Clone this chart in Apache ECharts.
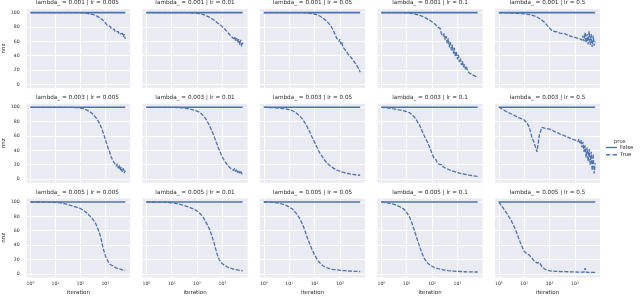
<!DOCTYPE html>
<html><head><meta charset="utf-8">
<script src="https://cdn.jsdelivr.net/npm/echarts@6/dist/echarts.min.js"></script>
<style>html,body{margin:0;padding:0;background:#fff}#c{width:640px;height:297px}</style>
</head><body><div id="c"></div>
<script>
const lambdas = ['0.001', '0.003', '0.005'];
const lrs = ['0.005', '0.01', '0.05', '0.1', '0.5'];
const legendNames = ['False', 'True'];
const xTickValues = [1, 10, 100, 1000];
const xTickLabels = ['10\u2070', '10\u00B9', '10\u00B2', '10\u00B3'];
const yTickValues = [0, 20, 40, 60, 80, 100];

const iterations = [1,2,3,4,5,6,7,8,10,13,16,20,25,32,40,50,63,79,100,
  110,120,132,145,158,174,191,209,229,251,
  275,302,331,363,398,437,479,525,575,631,
  692,759,832,912,1000,1096,1202,1318,1445,1585,
  1738,1905,2089,2291,2512,2754,3020,3311,3631,3981,
  4365,4786,5248,5754,6310];

// prox = False : nnz stays at 100
const nnzNoProx = [100,100,100,100,100,100,100,100,100,100,100,100,100,100,100,100,100,100,100,
  100,100,100,100,100,100,100,100,100,100,
  100,100,100,100,100,100,100,100,100,100,
  100,100,100,100,100,100,100,100,100,100,
  100,100,100,100,100,100,100,100,100,100,
  100,100,100,100,100];

// prox = True, lambda_ = 0.001
const nnz_l001_lr005 = [100,100,100,100,100,100,100,100,100,100,100,100,100,100,100,100,100,100,100,
  99.9,99.8,99.7,99.6,99.4,99.2,99,98.7,98.4,98.1,
  97.8,97.4,97,96.5,96,95.4,94.8,94.1,93.2,92.3,
  90.5,90.2,87.9,87.4,85,84.8,82.3,82.6,80,80.5,
  77.6,78.4,75.3,76.6,73.2,75,71.5,73.6,69.8,72.4,
  68.2,71.2,66.5,70,63.5];
const nnz_l001_lr01 = [100,100,100,100,100,100,100,100,100,100,100,100,100,100,99.9,99.8,99.6,99.4,99.1,
  98.9,98.7,98.4,98.1,97.7,97.3,96.8,96.3,95.7,95.1,
  94.5,93.8,93,92.2,91.3,90.3,89.3,88.2,87,85.8,
  85,84,82.5,81.5,80,78.8,77.2,76,74.2,73,
  72.5,69.5,71,66.5,68.5,63.5,66.5,61,64.5,58.5,
  63,55.5,62,53,58];
const nnz_l001_lr05 = [100,100,100,100,100,100,100,100,100,100,100,100,100,99.9,99.7,99.5,99.1,98.6,98,
  97.6,97.1,96.6,96,95.3,94.5,93.6,92.6,91.6,90.5,
  89.3,88,86.5,85,83.3,81.5,79.2,76.5,73.5,70.5,
  69,64,66,60,63,56,59,52,54,48.5,
  50,44.5,46,40.5,43,37.5,39.5,33.5,35.5,29.5,
  31.5,25.5,26.5,21,17];
const nnz_l001_lr1 = [100,100,100,100,100,100,99.9,99.8,99.6,99.2,98.8,98.1,97.2,96.2,95,93.5,91.6,89.6,87.3,
  86.3,85.2,84,82.5,81,79.5,77.5,78,71.5,74,
  67,71,62.5,67,57,64,52,59,47.5,55,
  43,51,38.5,46,35,41,31,36,27,32,
  24,28,21,24.5,18.5,21,16,18,14,15.5,
  12.5,13.5,11.2,12,10];
const nnz_l001_lr5 = [100,99.6,99.3,99.1,98.9,98.8,98.6,98.5,98.2,97.8,97.3,96.5,95.3,93.8,91.8,89.3,86.5,82.5,78.5,
  77,75.5,74.5,74,73.5,73.5,72.5,73,72,71.5,
  72,71,70.5,71,69.5,70,69,68.5,69,67.5,
  68.5,66.5,67.5,66,67,65,66.5,64,66,63.5,
  65.5,61.5,68,60,72,58,70,56,74,55,
  70,52,68,54,60];

// prox = True, lambda_ = 0.003
const nnz_l003_lr005 = [100,100,100,100,100,100,100,100,100,100,100,100,100,100,99.9,99.8,99.6,99.4,99,
  98.7,98.4,98,97.5,97,96.5,95.9,95.2,94.4,93.5,
  92.5,91.3,89.9,88.3,86.6,84.8,82.9,80.7,78.2,75.3,
  72,68.2,64.2,59.8,55.5,51,46.8,42.5,39.5,34,
  33,27.5,28.5,22.5,24.5,18,21.5,15,19,12,
  17,10,15,8.5,12];
const nnz_l003_lr01 = [100,100,100,100,100,100,100,100,99.9,99.8,99.7,99.5,99.2,98.8,98.3,97.7,96.9,95.9,94.6,
  94,93.2,92.3,91.3,90.1,88.7,87.1,85.2,83.1,80.8,
  78.2,75.4,72.4,69.2,65.9,62.4,58.8,55,51.2,47.4,
  43.7,40.2,37,33.5,31.5,28,27,23.5,23.5,19.5,
  21,16.5,18.5,14,16.5,12,15,10.5,13.5,9,
  12.5,8,11.5,7,9];
const nnz_l003_lr05 = [100,99.6,99.2,98.9,98.5,98.2,97.9,97.6,96.8,95.5,93.8,91.5,88.5,84.5,79.5,73.5,66.5,59,51.5,
  48.5,45.5,42.5,39.5,37,34.5,32.5,31,28,28.5,
  24.5,25.5,21.5,22.5,19,20,16.8,18,15,16,
  13.5,14.2,12,13,11,11.8,10,10.8,9.2,9.8,
  8.5,9,7.8,8.2,7.2,7.5,6.8,7,6.4,6.5,
  6,6.1,5.7,5.7,5.4];
const nnz_l003_lr1 = [100,98.9,97.8,97.2,96.5,96,95.4,94.9,93.8,92.4,90,86.5,81.5,75.5,67.5,60,53,45,35.5,
  32,29,27,26.5,23.5,24,20.5,22,18.5,20,
  17,18.5,15.5,16.5,14.2,15,13,13.8,12,12.6,
  11,11.5,10,10.3,9.2,9.3,8.4,8.4,7.7,7.6,
  7.1,6.9,6.5,6.3,5.9,5.7,5.4,5.2,5,4.8,
  4.6,4.4,4.2,4.1,3.9];
const nnz_l003_lr5 = [100,94,91,89,87,85.5,84.5,84,82.5,78,72,59,50,38,62,72,71,70.5,69.5,
  69,68.5,67.5,67,66.5,65.5,66,64.5,65,63,
  64,62,63,61,62,59.5,61,58.5,60,57,
  59.5,56,58,55,57.5,54,56.5,52,56,50,
  54,44,52,38,47,30,44,25,42,20,
  38,12,35,8,22];

// prox = True, lambda_ = 0.005
const nnz_l005_lr005 = [100,100,100,99.9,99.9,99.8,99.7,99.6,99.4,99.1,98.7,98.1,97.3,96.3,95.3,94.3,93.3,92.2,91,
  90.3,89.5,88.6,87.6,86.6,85.4,84.2,82.8,81.3,79.7,
  78.2,76.6,75,73.5,71,68,64.5,61,57.5,53,
  47.5,41,35,30,25.5,22,19.5,16.5,15.5,13,
  12.8,10.8,10.7,9,9.2,7.8,8,6.8,7.1,6,
  6.3,5.4,5.6,4.8,5];
const nnz_l005_lr01 = [100,100,99.9,99.8,99.7,99.6,99.4,99.3,98.9,98.4,97.8,97,96.1,95,93.9,92.6,91.2,89.5,87.5,
  86.5,85.2,83.8,82.2,80.5,78.6,76.5,74,71.2,68.5,
  65.8,63.5,60,55.5,51,46.5,42,36.5,31.5,26.5,
  22.5,19.5,17,15.5,14,12.8,11.5,11,9.6,9.5,
  8.2,8.3,7.2,7.4,6.4,6.6,5.7,6,5.1,5.4,
  4.7,4.9,4.3,4.5,4];
const nnz_l005_lr05 = [100,99.6,99,98.3,97.4,96.5,95.7,95,93,90.5,87.5,83,78,70.5,62,52,42.5,34,26.5,
  24,21.5,19.2,17.2,15.4,14,12.6,11.5,10.6,9.8,
  9.1,8.5,8,7.6,7.2,6.9,6.6,6.3,6,5.8,
  5.6,5.4,5.2,5.1,4.9,4.8,4.6,4.5,4.4,4.3,
  4.2,4.1,4,3.9,3.8,3.7,3.6,3.5,3.5,3.4,
  3.3,3.3,3.2,3.2,3.1];
const nnz_l005_lr1 = [100,98.5,97,95.5,94,92.5,91,89.5,85.5,79,71,61,50,38.5,28.5,21,16,12.8,10.5,
  9.8,9.1,8.5,8,7.5,7.1,6.7,6.4,6.1,5.8,
  5.5,5.3,5.1,4.9,4.7,4.5,4.3,4.2,4,3.9,
  3.8,3.7,3.6,3.5,3.4,3.3,3.2,3.2,3.1,3,
  3,2.9,2.9,2.8,2.8,2.7,2.7,2.7,2.6,2.6,
  2.6,2.5,2.5,2.5,2.5];
const nnz_l005_lr5 = [100,85,75,66,58,50,44,39,31,28,26,22,18,15,16,10,7,5,4.2,
  4,3.8,3.7,3.6,3.5,3.4,3.4,3.3,3.3,3.2,
  3.2,3.1,3.1,3,3,3,2.9,2.9,2.8,2.8,
  2.7,2.7,2.6,2.6,2.5,2.5,2.4,2.4,2.4,2.3,
  2.3,2.3,2.2,2.5,8,2.4,2.2,2.2,2.1,2.1,
  2.1,2,2,2,2];

const nnzProxPanels = [
  [nnz_l001_lr005, nnz_l001_lr01, nnz_l001_lr05, nnz_l001_lr1, nnz_l001_lr5],
  [nnz_l003_lr005, nnz_l003_lr01, nnz_l003_lr05, nnz_l003_lr1, nnz_l003_lr5],
  [nnz_l005_lr005, nnz_l005_lr01, nnz_l005_lr05, nnz_l005_lr1, nnz_l005_lr5]
];

const BLUE = '#4C72B0';
const TXT = '#2b2b2b';
const GRID_LEFT0 = 25, COL_PITCH = 117.5, GRID_W = 105, GRID_H = 79;
const ROW_TOPS = [9, 103.7, 198.4];
const ICON_SOLID = 'path://M0,0H11V1.4H0Z';
const ICON_DASHED = 'path://M0,0H4.3V1.4H0ZM6.7,0H11V1.4H6.7Z';

const grids = [], xAxes = [], yAxes = [], series = [], titles = [];
for (let r = 0; r < 3; r++) {
  for (let c = 0; c < 5; c++) {
    const idx = r * 5 + c;
    const left = GRID_LEFT0 + COL_PITCH * c;
    grids.push({left: left, top: ROW_TOPS[r], width: GRID_W, height: GRID_H,
      show: true, backgroundColor: '#EAEAF2', borderWidth: 0, containLabel: false});
    xAxes.push({
      type: 'log', logBase: 10, gridIndex: idx, min: 0.708, max: 9772,
      axisLine: {show: false}, axisTick: {show: false, customValues: xTickValues},
      axisLabel: {show: r === 2, customValues: xTickValues, fontSize: 4.6, color: TXT, margin: 3.5,
        fontFamily: 'DejaVu Sans',
        formatter: function (v) { return xTickLabels[Math.round(Math.log10(v))]; }},
      splitLine: {show: true, lineStyle: {color: '#ffffff', width: 1}},
      name: r === 2 ? 'iteration' : '', nameLocation: 'middle', nameGap: 12,
      nameTextStyle: {fontSize: 5.5, color: TXT, fontFamily: 'DejaVu Sans'}
    });
    yAxes.push({
      type: 'value', gridIndex: idx, min: -5, max: 105,
      axisLine: {show: false}, axisTick: {show: false, customValues: yTickValues},
      axisLabel: {show: c === 0, customValues: yTickValues, fontSize: 4.6, color: TXT, margin: 7,
        fontFamily: 'DejaVu Sans'},
      splitLine: {show: true, lineStyle: {color: '#ffffff', width: 1}},
      name: c === 0 ? 'nnz' : '', nameLocation: 'middle', nameGap: 19, nameRotate: 90,
      nameTextStyle: {fontSize: 5.5, color: TXT, fontFamily: 'DejaVu Sans'}
    });
    series.push({
      type: 'line', name: legendNames[0], xAxisIndex: idx, yAxisIndex: idx,
      data: iterations.map((it, i) => [it, nnzNoProx[i]]),
      symbol: 'none', showSymbol: false, silent: true,
      lineStyle: {color: BLUE, width: 1.6}, itemStyle: {color: BLUE}
    });
    const vals = nnzProxPanels[r][c];
    series.push({
      type: 'line', name: legendNames[1], xAxisIndex: idx, yAxisIndex: idx,
      data: iterations.map((it, i) => [it, vals[i]]),
      symbol: 'none', showSymbol: false, silent: true,
      lineStyle: {color: BLUE, width: 1.3, type: [4, 1.5]}, itemStyle: {color: BLUE}
    });
    titles.push({
      text: 'lambda_ = ' + lambdas[r] + ' | lr = ' + lrs[c],
      left: left + GRID_W / 2, top: ROW_TOPS[r] - 9, textAlign: 'center', padding: 0,
      textStyle: {fontSize: 5.7, fontWeight: 'normal', color: TXT, fontFamily: 'DejaVu Sans'}
    });
  }
}

const chart = echarts.init(document.getElementById('c'), null, {renderer: 'canvas'});
chart.setOption({
  animation: false,
  backgroundColor: '#ffffff',
  title: titles,
  grid: grids,
  xAxis: xAxes,
  yAxis: yAxes,
  series: series,
  legend: {
    data: [{name: legendNames[0], icon: ICON_SOLID}, {name: legendNames[1], icon: ICON_DASHED}],
    orient: 'vertical', left: 606, top: 145, padding: 0,
    itemWidth: 11, itemHeight: 1.4, itemGap: 2.2, selectedMode: false,
    itemStyle: {color: BLUE, borderWidth: 0},
    textStyle: {fontSize: 5.3, color: TXT, fontFamily: 'DejaVu Sans', padding: [0, 0, 0, -2]}
  },
  graphic: [{
    type: 'text', left: 614, top: 139,
    style: {text: 'prox', fontSize: 5.3, fill: TXT, fontFamily: 'DejaVu Sans'}
  }]
});
</script>
</body></html>
